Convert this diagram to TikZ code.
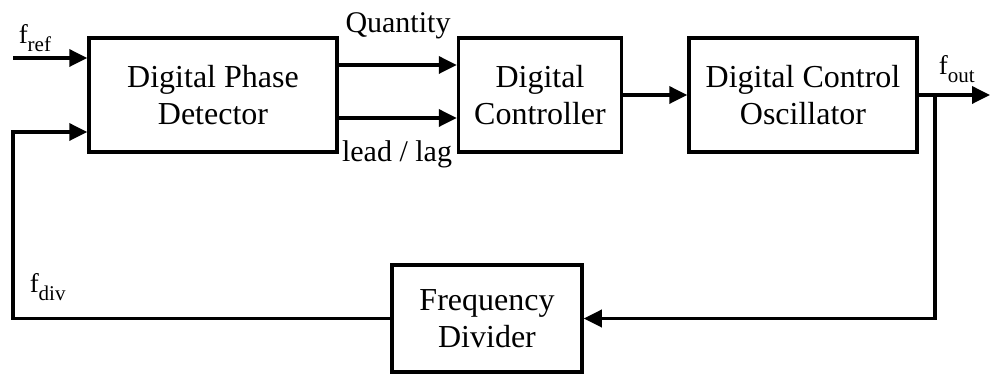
\documentclass[tikz,border=0pt]{standalone}
\usepackage{fontspec}
\setmainfont{Liberation Serif}
\tikzstyle{every node}+=[inner sep=0pt,align=center]
\tikzstyle{every path}+=[line width=3.5pt]
\usetikzlibrary{positioning,arrows.meta}
\tikzstyle{block}=[draw,line width=3.5pt,minimum height=114pt,font=\fontsize{32}{37}\selectfont]
\tikzstyle{lbl}=[font=\fontsize{30}{34}\selectfont]
\tikzstyle{sig}=[anchor=base west,font=\fontsize{27}{30}\selectfont]
\tikzstyle{flow}=[-{Triangle[length=18pt,width=17pt]}]
\newcommand{\fsig}[1]{f\raisebox{-8pt}{\fontsize{21}{24}\selectfont #1}}

\begin{document}
\begin{tikzpicture}[x=1pt,y=1pt]
\useasboundingbox (0,0) rectangle (990,374);

\node[block,minimum width=248pt] (pd) at (213,279) {Digital Phase\\Detector};
\node[block,minimum width=163pt,right=118pt of pd] (ctrl) {Digital\\Controller};
\node[block,minimum width=228pt,right=64pt of ctrl] (dco) {Digital Control\\Oscillator};
\node[block,minimum width=190pt,minimum height=107pt] (div) at (487,55.5) {Frequency\\Divider};

\coordinate (in) at (13,316);
\coordinate (fb) at (13,55.5);
\coordinate (tap) at (935,279);
\coordinate (out) at (990,279);

\node[sig] (fref) at (17,330) {\fsig{ref}};
\node[sig] (fout) at (937,299) {\fsig{out}};
\node[sig] (fdiv) at (28,81) {\fsig{div}};
\node[lbl,anchor=base] (qty) at (398,341) {Quantity};
\node[lbl,anchor=base] (lag) at (397,212) {lead / lag};

\draw[flow] (in) -- (in -| pd.west);
\draw[flow] ([yshift=30pt]pd.east) -- ([yshift=30pt]ctrl.west);
\draw[flow] ([yshift=-23pt]pd.east) -- ([yshift=-23pt]ctrl.west);
\draw[flow] (ctrl) -- (dco);
\draw[flow] (dco) -- (out);
\draw[flow] (tap) |- (div);
\draw[flow] (div) -- (fb) |- ([yshift=-37pt]pd.west);
\end{tikzpicture}
\end{document}
